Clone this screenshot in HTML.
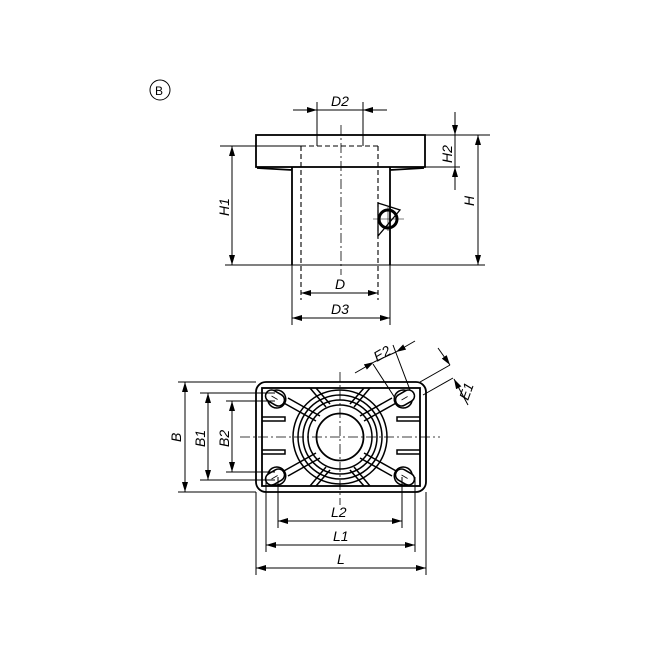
<!DOCTYPE html>
<html><head><style>body{margin:0;background:#fff}svg{display:block}text{font-family:"Liberation Sans",sans-serif;font-style:italic;font-size:14px;fill:#000}</style></head>
<body>
<svg width="654" height="654" viewBox="0 0 654 654" xmlns="http://www.w3.org/2000/svg">
<defs><marker id="a" viewBox="0 0 10 6" refX="10" refY="3" markerWidth="10" markerHeight="6" orient="auto-start-reverse" markerUnits="userSpaceOnUse"><path d="M0,0L10,3L0,6z" fill="#000"/></marker></defs>
<g stroke="#000" fill="none">
<circle cx="160" cy="90" r="10" stroke-width="1"/>
<!-- top view -->
<rect x="256" y="135" width="169" height="32" stroke-width="1.8"/>
<path d="M292 167V265M390 167V265M257 168Q292 170 292 170M424 168Q390 170 390 170" stroke-width="1.8"/>
<path d="M301 146H378M301 146V300M378 146V300" stroke-width="1.1" stroke-dasharray="5,3"/>
<path d="M317 102V146M363 102V146" stroke-width="1"/>
<path d="M341 125V275" stroke-width="0.8" stroke-dasharray="10,3,2,3"/>
<path d="M225 265H485M220 146H301M425 135H490M425 167H460" stroke-width="1"/>
<path d="M292 265V325M390 265V325" stroke-width="1"/>
<line x1="232" y1="146" x2="232" y2="265" stroke-width="1" marker-start="url(#a)" marker-end="url(#a)"/>
<line x1="478" y1="135" x2="478" y2="265" stroke-width="1" marker-start="url(#a)" marker-end="url(#a)"/>
<line x1="455" y1="112" x2="455" y2="135" stroke-width="1" marker-end="url(#a)"/>
<line x1="455" y1="190" x2="455" y2="167" stroke-width="1" marker-end="url(#a)"/>
<line x1="455" y1="135" x2="455" y2="167" stroke-width="1"/>
<line x1="293" y1="110" x2="317" y2="110" stroke-width="1" marker-end="url(#a)"/>
<line x1="387" y1="110" x2="363" y2="110" stroke-width="1" marker-end="url(#a)"/>
<line x1="317" y1="110" x2="363" y2="110" stroke-width="1"/>
<line x1="301" y1="293" x2="378" y2="293" stroke-width="1" marker-start="url(#a)" marker-end="url(#a)"/>
<line x1="292" y1="318" x2="390" y2="318" stroke-width="1" marker-start="url(#a)" marker-end="url(#a)"/>
<path d="M378 203L400 210L378 236Z" stroke-width="1.3"/>
<circle cx="388" cy="219" r="9" stroke-width="3"/>
<path d="M373 219H404M388 207V231" stroke-width="0.6"/>
<!-- bottom view -->
<rect x="256" y="382" width="170" height="110" rx="10" stroke-width="1.8"/>
<rect x="262" y="388" width="158" height="98" stroke-width="1.8"/>
<circle cx="340" cy="437" r="23.5" stroke-width="1.8"/>
<circle cx="340" cy="437" r="32" stroke-width="1.5"/>
<circle cx="340" cy="437" r="37" stroke-width="1.5"/>
<circle cx="340" cy="437" r="42" stroke-width="1.5"/>
<circle cx="340" cy="437" r="47" stroke-width="1.5"/>
<path d="M262 417H285V421H262M262 450H285V454H262M420 417H397V421H420M420 450H397V454H420" stroke-width="1.5"/>
<g stroke-width="1.5">
<path d="M282 402L316 421M288 398L320 416M398 402L364 421M392 398L360 416M282 472L316 453M288 476L320 458M398 472L364 453M392 476L360 458"/>
<path d="M310 388L326 407M316 388L330 404M370 388L354 407M364 388L350 404M310 486L326 467M316 486L330 470M370 486L354 467M364 486L350 470"/>
</g>
<g stroke-width="1.5" fill="#fff">
<g transform="translate(275,398) rotate(30)"><circle cx="2" cy="0" r="9"/><rect x="-10" y="-6" width="20" height="12" rx="6"/><path d="M-4 0H3" stroke-width="0.8"/></g>
<g transform="translate(405,398) rotate(-30)"><circle cx="-2" cy="0" r="9"/><rect x="-10" y="-6" width="20" height="12" rx="6"/><path d="M-4 0H3" stroke-width="0.8"/></g>
<g transform="translate(275,477) rotate(-30)"><circle cx="2" cy="0" r="9"/><rect x="-10" y="-6" width="20" height="12" rx="6"/><path d="M-4 0H3" stroke-width="0.8"/></g>
<g transform="translate(405,477) rotate(30)"><circle cx="-2" cy="0" r="9"/><rect x="-10" y="-6" width="20" height="12" rx="6"/><path d="M-4 0H3" stroke-width="0.8"/></g>
</g>
<path d="M240 437H440" stroke-width="0.8" stroke-dasharray="10,3,2,3"/>
<path d="M340 372V505" stroke-width="0.8" stroke-dasharray="10,3,2,3"/>
<path d="M178 382H256M178 492H256M200 393H275M200 480H275M226 401H275M226 472H275" stroke-width="1"/>
<path d="M256 492V575M426 492V575M266 477V552M415 477V552M278 477V528M402 477V528" stroke-width="1"/>
<line x1="185" y1="382" x2="185" y2="492" stroke-width="1" marker-start="url(#a)" marker-end="url(#a)"/>
<line x1="208" y1="393" x2="208" y2="480" stroke-width="1" marker-start="url(#a)" marker-end="url(#a)"/>
<line x1="232" y1="401" x2="232" y2="472" stroke-width="1" marker-start="url(#a)" marker-end="url(#a)"/>
<line x1="256" y1="568" x2="426" y2="568" stroke-width="1" marker-start="url(#a)" marker-end="url(#a)"/>
<line x1="266" y1="545" x2="415" y2="545" stroke-width="1" marker-start="url(#a)" marker-end="url(#a)"/>
<line x1="278" y1="521" x2="402" y2="521" stroke-width="1" marker-start="url(#a)" marker-end="url(#a)"/>
<!-- E2/E1 -->
<path d="M395 398L373 364M410 390L393 345M420 382L450 365M423 395L453 378" stroke-width="1"/>
<line x1="355" y1="373" x2="374" y2="362" stroke-width="1" marker-end="url(#a)"/>
<line x1="415" y1="341" x2="396" y2="352" stroke-width="1" marker-end="url(#a)"/>
<line x1="374" y1="362" x2="396" y2="352" stroke-width="1"/>
<line x1="438" y1="348" x2="450" y2="365" stroke-width="1" marker-end="url(#a)"/>
<line x1="468" y1="405" x2="454" y2="379" stroke-width="1" marker-end="url(#a)"/>
</g>
<text x="155" y="95" style="font-style:normal;font-size:12px">B</text>
<text x="331" y="106">D2</text>
<text x="335" y="289">D</text>
<text x="331" y="314">D3</text>
<text transform="translate(229,216) rotate(-90)">H1</text>
<text transform="translate(452,163) rotate(-90)">H2</text>
<text transform="translate(474,206) rotate(-90)">H</text>
<text transform="translate(181,442) rotate(-90)">B</text>
<text transform="translate(205,447) rotate(-90)">B1</text>
<text transform="translate(229,447) rotate(-90)">B2</text>
<text x="331" y="517">L2</text>
<text x="333" y="541">L1</text>
<text x="337" y="564">L</text>
<text transform="translate(377,362) rotate(-30)">E2</text>
<text transform="translate(468,401) rotate(-70)">E1</text>
</svg>
</body></html>
